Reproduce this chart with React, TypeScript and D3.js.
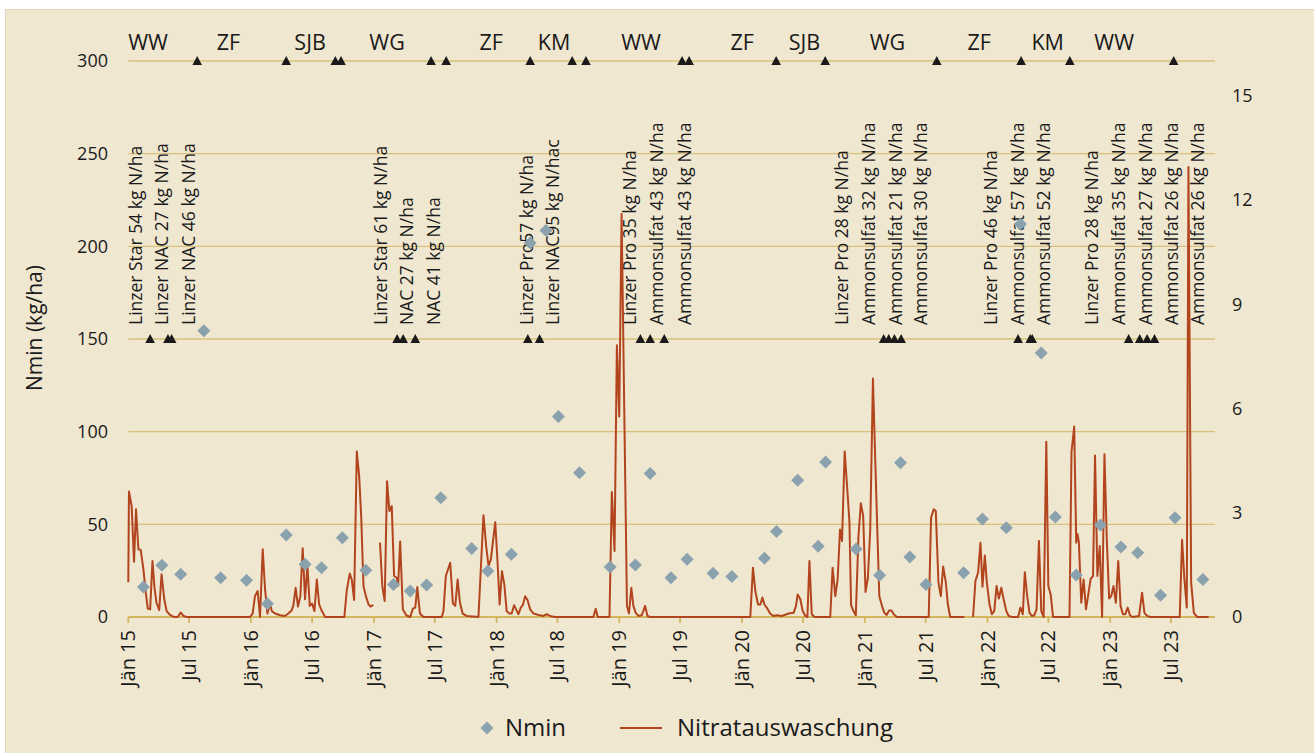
import React from "react";
import * as d3 from "d3";

// ---------- data (days since 1 Jan 2015) ----------
const START = Date.UTC(2015, 0, 1);
const dayToDate = (d: number) => new Date(START + d * 86400000);

const leftTicks = [0, 50, 100, 150, 200, 250, 300];
const rightTicks = [0, 3, 6, 9, 12, 15];
const xTickLabels = [
  "Jän 15", "Jul 15", "Jän 16", "Jul 16", "Jän 17", "Jul 17", "Jän 18", "Jul 18", "Jän 19",
  "Jul 19", "Jän 20", "Jul 20", "Jän 21", "Jul 21", "Jän 22", "Jul 22", "Jän 23", "Jul 23",
];

const cropNames = ["WW", "ZF", "SJB", "WG", "ZF", "KM", "WW", "ZF", "SJB", "WG", "ZF", "KM", "WW"];
const cropDays = [59, 298, 541, 770, 1080, 1267, 1526, 1827, 2012, 2259, 2532, 2736, 2934];

const eventDays = [205, 470, 616, 633, 901, 946, 1196, 1321, 1362, 1648, 1669, 1928, 2074, 2406, 2657, 2802, 3111];

const fertDays = [65, 118, 129, 800, 818, 854, 1189, 1224, 1524, 1553, 1595, 2248, 2263, 2280, 2300, 2648, 2684, 2690, 2977, 3010, 3032, 3054];

const fertLabels = [
  "Linzer Star 54 kg N/ha", "Linzer NAC 27 kg N/ha", "Linzer NAC 46 kg N/ha",
  "Linzer Star 61 kg N/ha", "NAC 27 kg N/ha", "NAC 41 kg N/ha",
  "Linzer Pro57 kg N/ha", "Linzer NAC95 kg N/hac",
  "Linzer Pro 35 kg N/ha", "Ammonsulfat 43 kg N/ha", "Ammonsulfat 43 kg N/ha",
  "Linzer Pro 28 kg N/ha", "Ammonsulfat 32 kg N/ha", "Ammonsulfat 21 kg N/ha", "Ammonsulfat 30 kg N/ha",
  "Linzer Pro 46 kg N/ha", "Ammonsulfat 57 kg N/ha", "Ammonsulfat 52 kg N/ha",
  "Linzer Pro 28 kg N/ha", "Ammonsulfat 35 kg N/ha", "Ammonsulfat 27 kg N/ha", "Ammonsulfat 26 kg N/ha", "Ammonsulfat 26 kg N/ha",
];
const fertLabelDays = [23, 100, 181, 752, 830, 910, 1187, 1264, 1494, 1574, 1655, 2125, 2203, 2283, 2360, 2566, 2646, 2726, 2869, 2947, 3027, 3105, 3182];

const nmin: [number, number][] = [
  [45, 16.2], [100, 27.9], [156, 23.0], [225, 154.4], [275, 21.2], [352, 19.8], [414, 7.2],
  [470, 44.3], [526, 28.4], [575, 26.6], [637, 42.8], [707, 25.2], [789, 17.6], [839, 14.0],
  [888, 17.3], [930, 64.4], [1022, 36.9], [1070, 24.8], [1140, 33.8], [1196, 201.8], [1243, 208.5],
  [1280, 108.2], [1343, 77.9], [1434, 27.0], [1509, 28.1], [1553, 77.4], [1615, 21.2], [1663, 31.1],
  [1740, 23.6], [1796, 21.8], [1893, 31.7], [1929, 46.1], [1992, 73.8], [2053, 38.2], [2075, 83.7],
  [2166, 36.7], [2236, 22.5], [2298, 83.2], [2326, 32.4], [2374, 17.5], [2486, 23.9], [2542, 52.9],
  [2613, 48.2], [2655, 212], [2717, 142.4], [2759, 54.0], [2821, 22.7], [2893, 49.7], [2954, 37.8],
  [3004, 34.7], [3072, 11.7], [3115, 53.6], [3198, 20.3],
];

const leaching: [number, number | null][] = [
  [0, 1.0], [2, 3.61], [10, 3.19], [17, 1.59], [23, 3.1], [30, 1.95], [37, 1.93], [45, 1.37], [52, 0.7],
  [58, 0.24], [65, 0.22], [72, 1.61], [78, 0.84], [84, 0.41], [92, 0.2], [99, 1.23], [107, 0.51],
  [114, 0.17], [124, 0.06], [134, 0.01], [147, 0], [156, 0.13], [164, 0.03], [174, 0], [362, 0],
  [370, 0.1], [377, 0.6], [385, 0.75], [392, 0], [400, 1.95], [407, 0.8], [414, 0.1], [422, 0.39],
  [427, 0.17], [437, 0.1], [452, 0.05], [466, 0.03], [476, 0.1], [486, 0.19], [491, 0.32], [498, 0.84],
  [505, 0.3], [512, 0.6], [519, 1.98], [526, 0.51], [533, 1.49], [540, 0.32], [547, 0.39], [554, 0.17],
  [561, 1.08], [568, 0.36], [576, 0.17], [586, 0], [643, 0], [650, 0.75], [659, 1.25], [665, 1.08],
  [672, 0.49], [680, 4.76], [687, 4.06], [693, 2.91], [700, 0.89], [707, 0.6], [715, 0.36], [721, 0.3],
  [729, 0.35], [739, null],
  [749, 2.14], [756, 0.89], [763, 0.46], [770, 3.91], [777, 3.05], [784, 3.19], [791, 1.18], [799, 1.13],
  [803, 0.9], [809, 2.17], [817, 0.22], [827, 0.05], [839, 0], [847, 0.24], [854, 0.27], [860, 0.86],
  [868, 0.1], [878, 0], [933, 0], [938, 0.17], [945, 1.18], [958, 1.56], [966, 0.39], [973, 0.32],
  [980, 1.08], [987, 0.41], [995, 0.1], [1007, 0.03], [1042, 0], [1057, 2.93], [1065, 2.04], [1072, 1.47],
  [1079, 1.66], [1092, 2.73], [1099, 1.56], [1105, 0.36], [1112, 1.32], [1119, 0.94], [1126, 0.17],
  [1134, 0.1], [1141, 0.1], [1148, 0.34], [1154, 0.22], [1161, 0.08], [1168, 0.27], [1174, 0.34],
  [1181, 0.6], [1188, 0.49], [1196, 0.22], [1206, 0.1], [1221, 0.06], [1236, 0.03], [1245, 0.08],
  [1255, 0.03], [1270, 0], [1384, 0], [1391, 0.24], [1397, 0], [1432, 0], [1439, 3.6], [1447, 1.9],
  [1454, 7.82], [1461, 5.77], [1468, 11.6], [1484, 0.32], [1490, 0.1], [1497, 0.84], [1503, 0.32],
  [1510, 0.12], [1518, 0.03], [1528, 0.05], [1538, 0.32], [1545, 0.03], [1553, 0], [1851, 0],
  [1859, 1.42], [1866, 0.75], [1874, 0.36], [1881, 0.36], [1887, 0.56], [1893, 0.36], [1900, 0.27],
  [1910, 0.1], [1920, 0.03], [1930, 0.05], [1945, 0.03], [1965, 0.1], [1980, 0.12], [1987, 0.32],
  [1992, 0.65], [2000, 0.51], [2007, 0.17], [2015, 0.03], [2021, 0], [2027, 1.61], [2034, 0.08],
  [2042, 0], [2089, 0], [2096, 1.42], [2104, 0.6], [2111, 1.08], [2118, 2.52], [2124, 2.19],
  [2132, 4.76], [2139, 3.77], [2146, 2.76], [2151, 0.34], [2158, 0.17], [2165, 0.05], [2173, 2.33],
  [2180, 3.27], [2187, 2.91], [2194, 0.72], [2201, 1.13], [2208, 2.52], [2216, 6.86], [2223, 4.49],
  [2229, 2.52], [2235, 0.6], [2243, 0.32], [2250, 0.12], [2257, 0.06], [2264, 0.19], [2271, 0.19],
  [2278, 0.08], [2287, 0], [2382, 0], [2389, 2.86], [2397, 3.1], [2403, 3.05], [2411, 0.99],
  [2418, 0.6], [2425, 1.45], [2433, 0.99], [2439, 0.36], [2446, 0], [2488, 0], [2500, null],
  [2514, 0], [2521, 1.04], [2529, 1.28], [2536, 2.14], [2542, 0.87], [2549, 1.77], [2555, 0.99],
  [2563, 0.36], [2570, 0.08], [2577, 0.17], [2584, 0.89], [2591, 0.53], [2598, 0.84], [2605, 0.51],
  [2613, 0.17], [2620, 0.03], [2630, 0], [2648, 0], [2655, 0.27], [2662, 0.08], [2668, 1.29],
  [2675, 0.6], [2682, 0.12], [2689, 0.03], [2696, 0.05], [2703, 0.22], [2710, 2.19], [2717, 0.17],
  [2724, 0], [2732, 5.04], [2738, 0.89], [2745, 0.65], [2752, 0], [2801, 0], [2807, 4.75], [2815, 5.48],
  [2821, 2.14], [2825, 2.38], [2829, 2.14], [2836, 0.41], [2843, 1.08], [2850, 0.22], [2857, 0.65],
  [2864, 1.1], [2871, 1.18], [2877, 4.65], [2884, 1.18], [2891, 2.04], [2898, 0], [2905, 4.68],
  [2912, 2.24], [2919, 0.53], [2925, 0.6], [2932, 0.89], [2939, 0.41], [2946, 1.61], [2953, 0.32],
  [2960, 0.08], [2967, 0.08], [2974, 0.27], [2981, 0.05], [2988, 0], [3008, 0.03], [3017, 0.7],
  [3024, 0.12], [3032, 0.03], [3042, 0], [3129, 0], [3136, 2.22], [3143, 1.08], [3150, 0.27],
  [3155, 12.95], [3163, 0.99], [3171, 0.12], [3181, 0], [3215, 0],
];

// ---------- styling ----------
const FONT = "'Open Sans', 'Noto Sans', sans-serif";
const BG = "#f0e7d1";
const GRID = "#d8c27a";
const AXIS = "#d2b75f";
const LINE = "#b2441e";
const DIAMOND = "#8aa1ae";
const TEXT = "#1a1a1a";

export default function App() {
  const W = 1314;
  const H = 753;
  const x = d3.scaleUtc().domain([dayToDate(0), dayToDate(3234)]).range([128.3, 1215]);
  const yL = d3.scaleLinear().domain([0, 300]).range([617, 61]);
  const yR = d3.scaleLinear().domain([0, 16]).range([617, 61]);
  const [x0, x1] = x.range();

  const tickDates = d3.utcMonth.every(6)!.range(dayToDate(0), dayToDate(3200));

  const line = d3
    .line<[number, number | null]>()
    .defined((d) => d[1] != null)
    .x((d) => x(dayToDate(d[0])))
    .y((d) => yR(d[1] as number));

  const diamond = (cx: number, cy: number, r: number) =>
    `M${cx},${cy - r}L${cx + r},${cy}L${cx},${cy + r}L${cx - r},${cy}Z`;
  const tri = (cx: number, cy: number) =>
    `M${cx},${cy - 5}L${cx + 4.8},${cy + 4}L${cx - 4.8},${cy + 4}Z`;

  return (
    <svg
      width={W}
      height={H}
      style={{ position: "absolute", left: 0, top: 0, fontFamily: FONT }}
    >
      <rect x={0} y={0} width={W} height={H} fill="#ffffff" />
      <rect x={5.5} y={9.5} width={W} height={H} fill={BG} stroke="#e2d7b8" strokeWidth={1} />

      {/* gridlines */}
      {leftTicks.slice(1).map((t) => (
        <line key={t} x1={x0} x2={x1} y1={yL(t)} y2={yL(t)} stroke={GRID} strokeWidth={1.3} />
      ))}

      {/* x axis */}
      <line x1={x0} x2={x1} y1={yL(0)} y2={yL(0)} stroke={AXIS} strokeWidth={2.2} />
      {tickDates.map((d, i) => (
        <g key={i} transform={`translate(${x(d)},${yL(0)})`}>
          <line y1={0} y2={6} stroke={AXIS} strokeWidth={1.8} />
          <text
            transform="translate(0,13) rotate(-90)"
            textAnchor="end"
            dy="0.35em"
            fontSize={20}
            fill={TEXT}
          >
            {xTickLabels[i]}
          </text>
        </g>
      ))}

      {/* left axis labels */}
      {leftTicks.map((t) => (
        <text key={t} x={108} y={yL(t)} dy="0.35em" textAnchor="end" fontSize={18} fill={TEXT}>
          {t}
        </text>
      ))}
      {/* right axis labels */}
      {rightTicks.map((t) => (
        <text key={t} x={1232} y={yR(t)} dy="0.35em" textAnchor="start" fontSize={18} fill={TEXT}>
          {t}
        </text>
      ))}

      {/* y title */}
      <text
        transform={`translate(35,328) rotate(-90)`}
        textAnchor="middle"
        dy="0.35em"
        fontSize={21}
        fill={TEXT}
      >
        Nmin (kg/ha)
      </text>

      {/* crop labels */}
      {cropNames.map((c, i) => (
        <text key={i} x={x(dayToDate(cropDays[i]))} y={50} textAnchor="middle" fontSize={21.5} fill={TEXT}>
          {c}
        </text>
      ))}

      {/* fertilization labels */}
      {fertLabels.map((f, i) => (
        <text
          key={i}
          transform={`translate(${x(dayToDate(fertLabelDays[i]))},325) rotate(-90)`}
          textAnchor="start"
          dy="0.35em"
          fontSize={17.5}
          fill={TEXT}
        >
          {f}
        </text>
      ))}

      {/* leaching line */}
      <path d={line(leaching) || ""} fill="none" stroke={LINE} strokeWidth={2} strokeLinejoin="round" />

      {/* Nmin diamonds */}
      {nmin.map(([d, v], i) => (
        <path key={i} d={diamond(x(dayToDate(d)), yL(v), 6.5)} fill={DIAMOND} />
      ))}

      {/* event triangles */}
      {eventDays.map((d, i) => (
        <path key={i} d={tri(x(dayToDate(d)), yL(300))} fill={TEXT} />
      ))}
      {fertDays.map((d, i) => (
        <path key={i} d={tri(x(dayToDate(d)), yL(150))} fill={TEXT} />
      ))}

      {/* legend */}
      <path d={diamond(487, 728, 6.5)} fill={DIAMOND} />
      <text x={505} y={728} dy="0.35em" fontSize={24} fill={TEXT}>
        Nmin
      </text>
      <line x1={620} x2={662} y1={728} y2={728} stroke={LINE} strokeWidth={2} />
      <text x={677} y={728} dy="0.35em" fontSize={24} fill={TEXT}>
        Nitratauswaschung
      </text>
    </svg>
  );
}
